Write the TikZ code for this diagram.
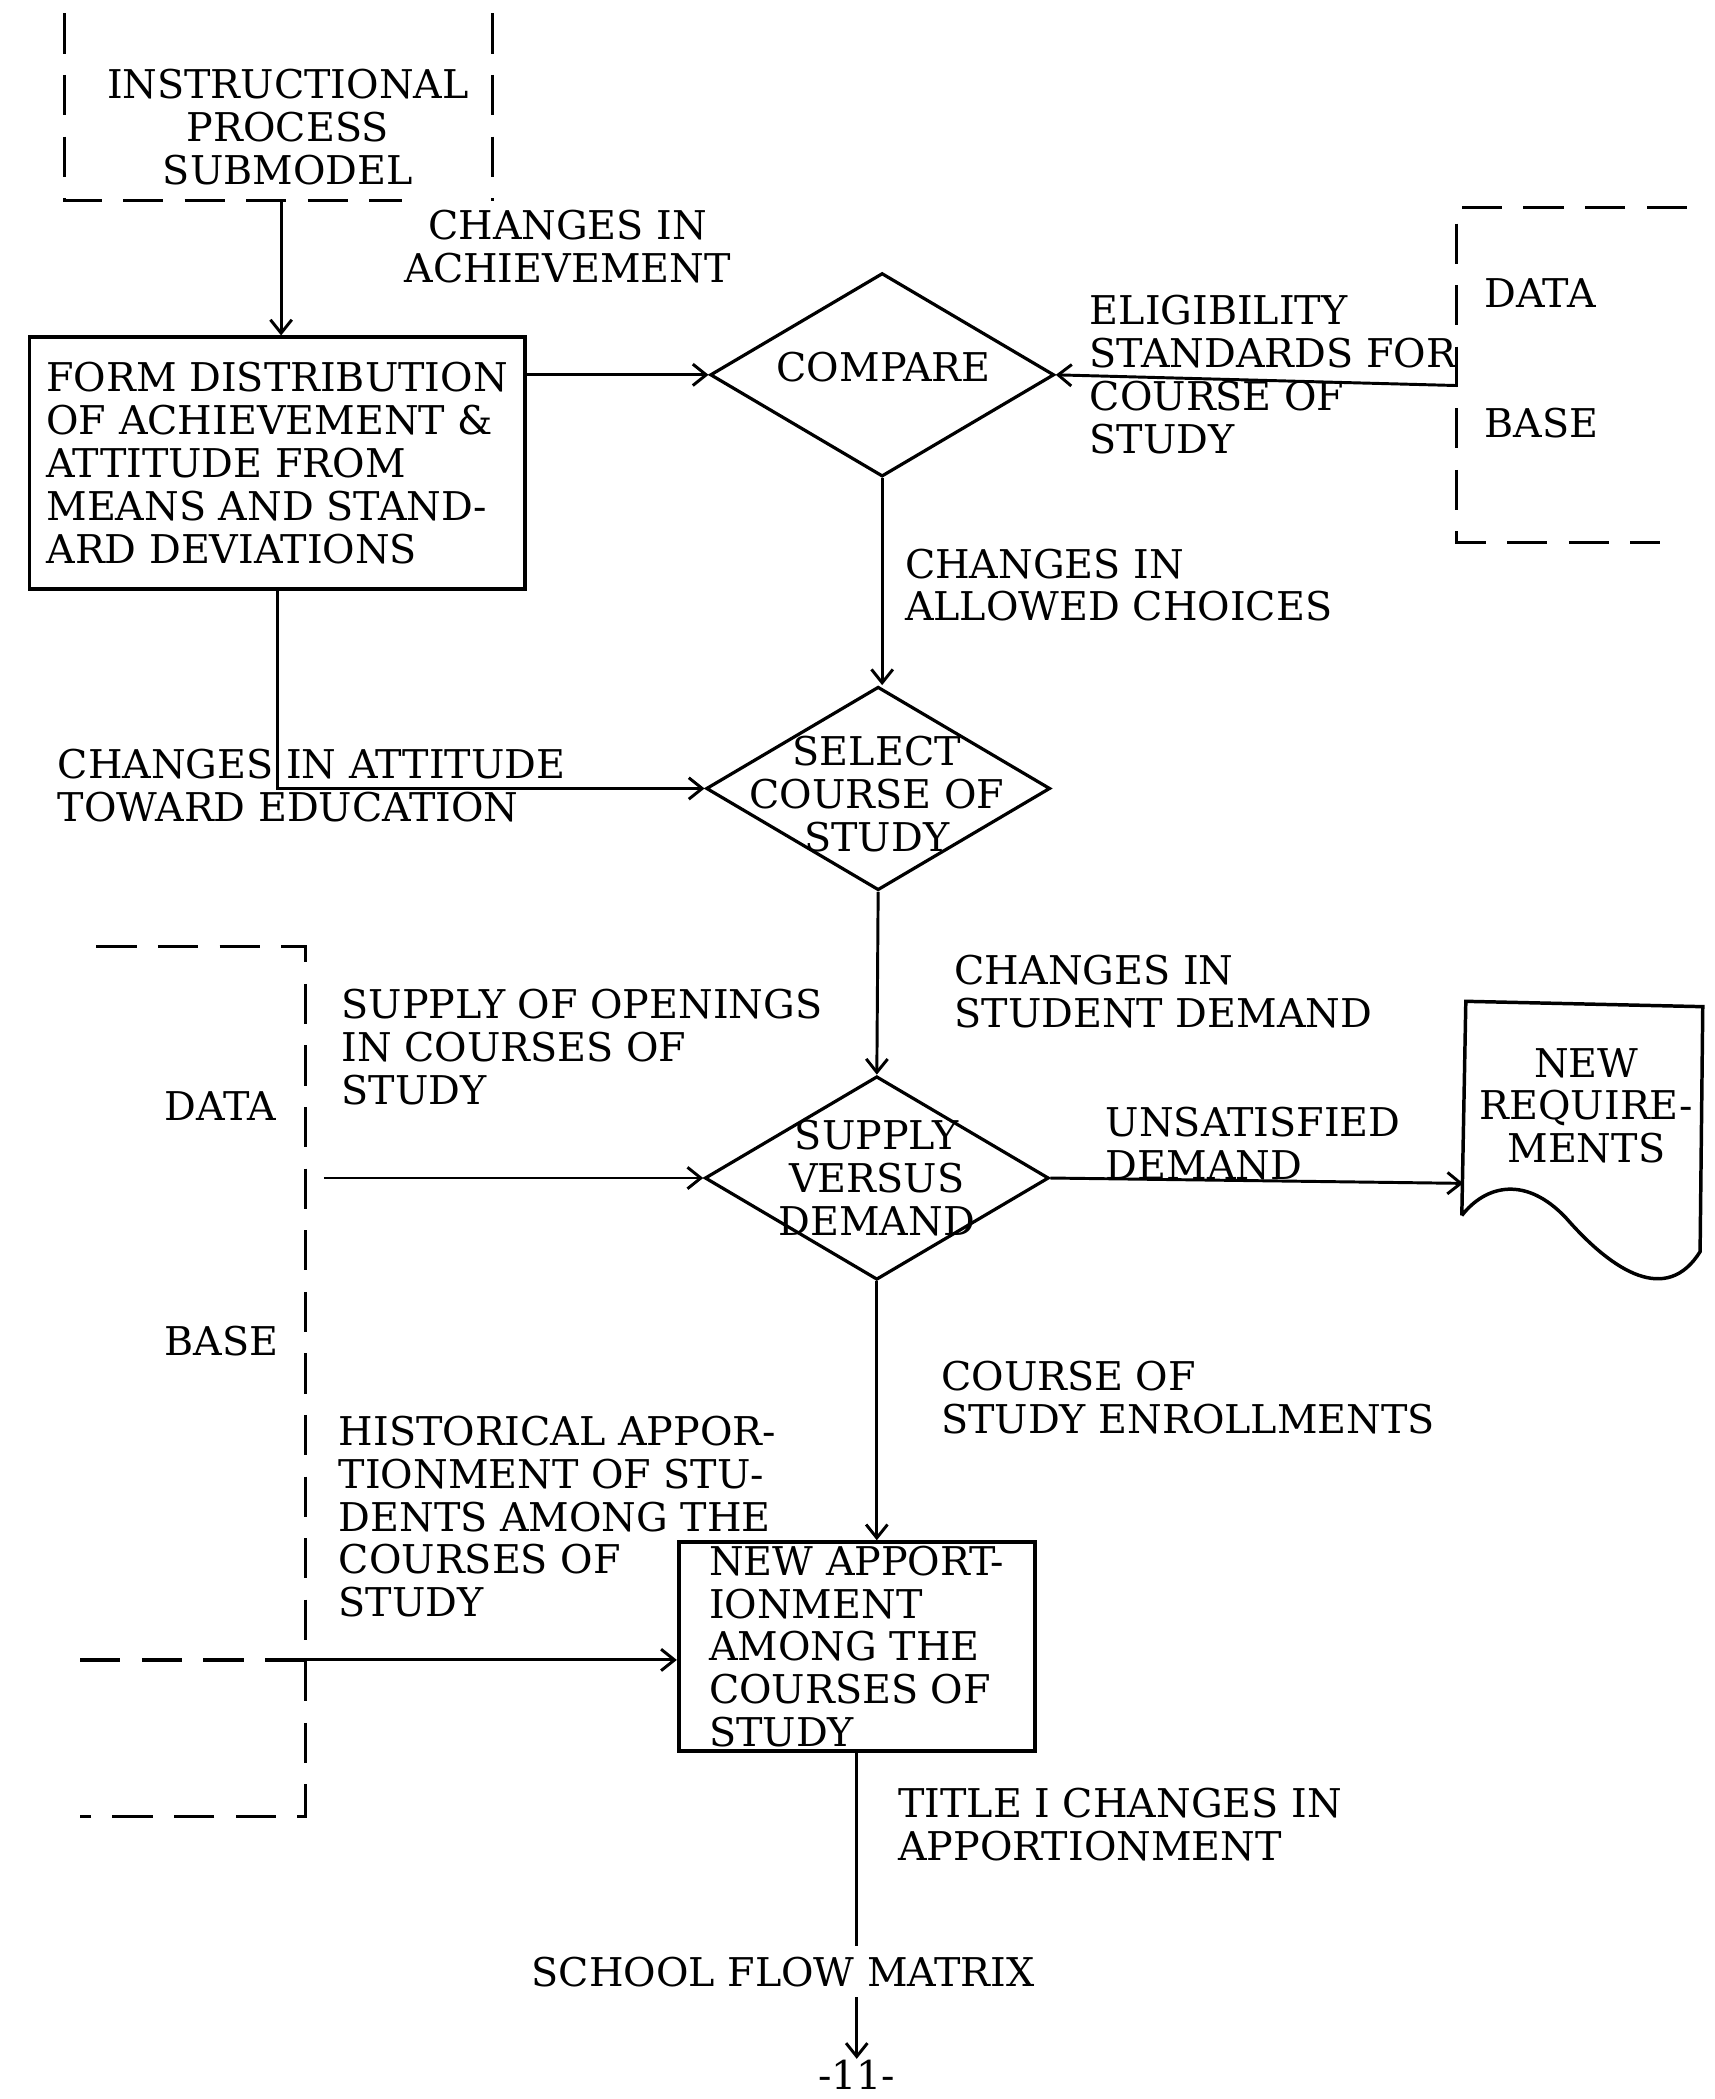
\documentclass[tikz,border=0pt]{standalone}
\usepackage{fontspec}
\setmainfont{DejaVu Serif}
\usetikzlibrary{shapes.geometric,arrows.meta}
\tikzset{
  box/.style={draw,line width=1.4pt,align=left,inner xsep=5pt,inner ysep=1pt},
  decision/.style={draw,diamond,line width=1.2pt,inner sep=0pt,minimum width=128.5pt,minimum height=76pt},
  lbl/.style={align=left,anchor=west,inner sep=0pt},
  dashline/.style={line width=1.2pt,dash pattern=on 15pt off 8pt},
}

\begin{document}
\begin{tikzpicture}[x=0.5pt,y=-0.5pt,line width=1.1pt,>={Straight Barb[length=5pt,width=8pt]},
    font=\fontsize{14.8}{16}\selectfont]
    \useasboundingbox (0,0) rectangle (1281,1568);

    % dashed outside sources
    \draw[dashline] (48,10) |- (300,150);
    \draw[dashline] (368,10) -- (368,150);
    \draw[dashline] (1260,155) -| (1088,405) -- (1240,405);
    \draw[dashline] (72,707) -| (228,1357) -- (60,1357);
    \draw[dashline] (60,1240) -- (228,1240);

    \node[align=center] (instr) at (215,95) {INSTRUCTIONAL\\PROCESS\\SUBMODEL};
    \node[box,minimum width=185pt,minimum height=94pt] (form) at (207,346) {FORM DISTRIBUTION\\OF ACHIEVEMENT \&\\ATTITUDE FROM\\MEANS AND STAND-\\ARD DEVIATIONS};
    \node[decision] (compare) at (659,280) {};
    \node (comparetxt) at (660,274) {COMPARE};
    \node[decision] (select) at (656,589) {};
    \node[align=center] (selecttxt) at (655,593) {SELECT\\COURSE OF\\STUDY};
    \node[decision] (supply) at (655,880) {};
    \node[align=center] (supplytxt) at (655,880) {SUPPLY\\VERSUS\\DEMAND};
    \node[box,minimum width=133pt,minimum height=78pt] (newapp) at (640,1230) {NEW APPORT-\\IONMENT\\AMONG THE\\COURSES OF\\STUDY};

    \draw[line width=1.3pt] (1092,908) -- (1095,748) -- (1272,752) -- (1270,935)
        .. controls (1245,975) and (1205,950) .. (1170,910)
        .. controls (1140,878) and (1110,885) .. (1092,908);
    \coordinate (reqin) at (1093,884);
    \node[align=center] (reqtxt) at (1185,826) {NEW\\REQUIRE-\\MENTS};

    \node[lbl] (dataR) at (1108,219) {DATA};
    \node[lbl] (baseR) at (1108,316) {BASE};
    \node[lbl] (dataL) at (122,826) {DATA};
    \node[lbl] (baseL) at (122,1002) {BASE};

    \node[align=center] (achv) at (424,184) {CHANGES IN\\ACHIEVEMENT};
    \node[lbl] (elig) at (813,280) {ELIGIBILITY\\STANDARDS FOR\\COURSE OF\\STUDY};
    \node[lbl] (allowed) at (675,437) {CHANGES IN\\ALLOWED CHOICES};
    \node[lbl] (attit) at (42,587) {CHANGES IN ATTITUDE\\TOWARD EDUCATION};
    \node[lbl] (studdem) at (712,741) {CHANGES IN\\STUDENT DEMAND};
    \node[lbl] (openings) at (254,782) {SUPPLY OF OPENINGS\\IN COURSES OF\\STUDY};
    \node[lbl] (unsat) at (825,854) {UNSATISFIED\\DEMAND};
    \node[lbl] (enroll) at (702,1044) {COURSE OF\\STUDY ENROLLMENTS};
    \node[lbl] (hist) at (252,1133) {HISTORICAL APPOR-\\TIONMENT OF STU-\\DENTS AMONG THE\\COURSES OF\\STUDY};
    \node[lbl] (title) at (670,1363) {TITLE I CHANGES IN\\APPORTIONMENT};
    \node (flowmat) at (585,1473) {SCHOOL FLOW MATRIX};
    \node[inner sep=0pt] (pgnum) at (640,1550) {-11-};

    \coordinate (instrout) at (210,150);
    \coordinate (eligout) at (1088,288);
    \coordinate (openout) at (242,880);
    \coordinate (histout) at (228,1240);
    \coordinate (flowend) at (640,1538);
    \draw[->] (instrout) -- (instrout |- form.north);
    \draw[->] (form.east |- compare.west) -- (compare.west);
    \draw[->] (eligout) -- (compare.east);
    \draw[->] (compare.south) -- (compare.south |- select.north);
    \draw[->] (form.south) |- (select.west);
    \draw[->] (select.south) -- (supply.north);
    \draw[->] (openout) -- (supply.west);
    \draw[->] (supply.east) -- (reqin);
    \draw[->] (supply.south) -- (supply.south |- newapp.north);
    \draw[->] (histout) -- (histout -| newapp.west);
    \draw (newapp.south) -- (newapp.south |- flowmat.north);
    \draw[->] (flowmat.south -| newapp.south) -- (flowend);
\end{tikzpicture}
\end{document}
